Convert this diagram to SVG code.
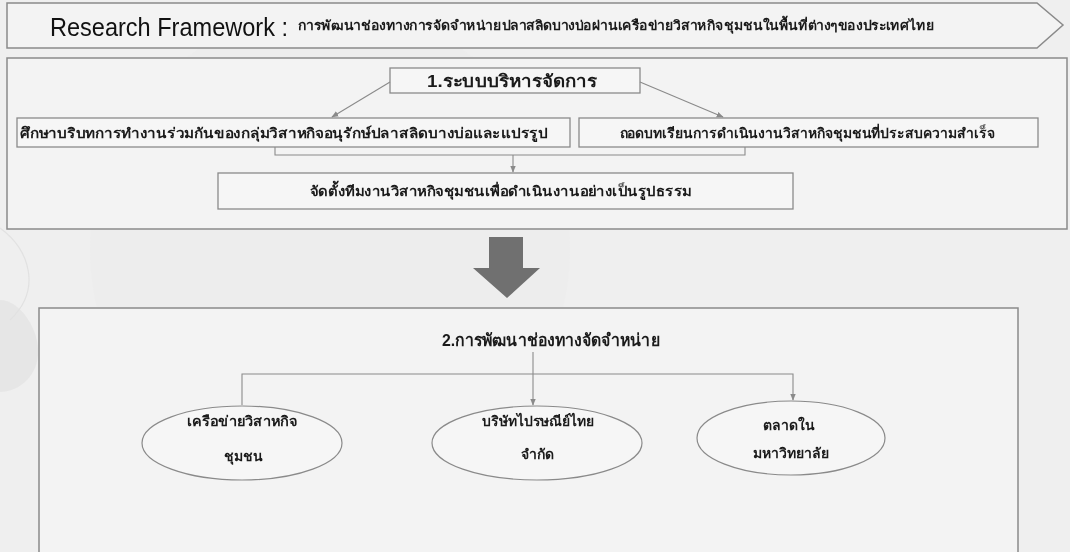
<svg xmlns="http://www.w3.org/2000/svg" width="1070" height="552" viewBox="0 0 1070 552">
<defs>
<style>
.bg{fill:#efefef}
.frame{fill:#f3f3f3;stroke:#8a8a8a;stroke-width:1.5}
.box{fill:#f6f6f6;stroke:#8a8a8a;stroke-width:1.3}
.ell{fill:#f6f6f6;stroke:#8a8a8a;stroke-width:1.2}
.t{font-family:"Liberation Sans","DejaVu Sans","Noto Sans",sans-serif;fill:#1a1a1a;text-anchor:middle;font-weight:bold}
.s{font-size:14px}
.m{font-size:17px}
.conn{fill:none;stroke:#8a8a8a;stroke-width:1.1}
</style>
<marker id="ah" viewBox="0 0 10 10" refX="9" refY="5" markerWidth="7" markerHeight="7" orient="auto" markerUnits="userSpaceOnUse">
<path d="M0,1 L10,5 L0,9 z" fill="#8a8a8a"/>
</marker>
</defs>
<rect class="bg" x="0" y="0" width="1070" height="552"/>
<g id="background" fill="#e4e4e4" opacity="0.8">
<path d="M0,300 C20,300 40,330 38,355 C36,380 15,392 0,392 z"/>
<path d="M0,228 C30,250 42,290 10,320" fill="none" stroke="#dedede" stroke-width="1.2"/>
<circle cx="330" cy="250" r="240" fill="#ececec" opacity="0.5"/>
</g>
<g id="title">
<polygon class="frame" points="7,3 1037,3 1063,25 1037,48 7,48" fill="#f6f6f6"/>
<text x="50" y="36" textLength="238" lengthAdjust="spacingAndGlyphs" style="font-family:'Liberation Sans','DejaVu Sans',sans-serif;font-size:26px;fill:#111">Research Framework :</text>
<text x="616" y="30" class="t" style="font-size:13px" textLength="637" lengthAdjust="spacingAndGlyphs">การพัฒนาช่องทางการจัดจำหน่ายปลาสลิดบางบ่อผ่านเครือข่ายวิสาหกิจชุมชนในพื้นที่ต่างๆของประเทศไทย</text>
</g>
<g id="section1">
<rect class="frame" x="7" y="58" width="1060" height="171"/>
</g>
<g id="node-1-management">
<rect class="box" x="390" y="68" width="250" height="25"/>
<text class="t m" x="512" y="87" textLength="170" lengthAdjust="spacingAndGlyphs">1.ระบบบริหารจัดการ</text>
</g>
<g id="node-study-context">
<rect class="box" x="17" y="118" width="553" height="29"/>
<text class="t s" x="284" y="138" textLength="528" lengthAdjust="spacingAndGlyphs">ศึกษาบริบทการทำงานร่วมกันของกลุ่มวิสาหกิจอนุรักษ์ปลาสลิดบางบ่อและแปรรูป</text>
</g>
<g id="node-lessons">
<rect class="box" x="579" y="118" width="459" height="29"/>
<text class="t s" x="807" y="138" textLength="375" lengthAdjust="spacingAndGlyphs">ถอดบทเรียนการดำเนินงานวิสาหกิจชุมชนที่ประสบความสำเร็จ</text>
</g>
<g id="node-team">
<rect class="box" x="218" y="173" width="575" height="36"/>
<text class="t s" x="501" y="196" textLength="382" lengthAdjust="spacingAndGlyphs">จัดตั้งทีมงานวิสาหกิจชุมชนเพื่อดำเนินงานอย่างเป็นรูปธรรม</text>
</g>
<g id="big-arrow">
<polygon points="489,237 523,237 523,268 540,268 507,298 473,268 489,268" fill="#707070"/>
</g>
<g id="section2">
<rect class="frame" x="39" y="308" width="979" height="260"/>
</g>
<g id="node-2-channels">
<text class="t m" x="551" y="346" textLength="218" lengthAdjust="spacingAndGlyphs">2.การพัฒนาช่องทางจัดจำหน่าย</text>
</g>
<g id="node-network">
<ellipse class="ell" cx="242" cy="443" rx="100" ry="37"/>
<text class="t s" x="242" y="426" textLength="110" lengthAdjust="spacingAndGlyphs">เครือข่ายวิสาหกิจ</text>
<text class="t s" x="243" y="461">ชุมชน</text>
</g>
<g id="node-post">
<ellipse class="ell" cx="537" cy="443" rx="105" ry="37"/>
<text class="t s" x="538" y="426" textLength="112" lengthAdjust="spacingAndGlyphs">บริษัทไปรษณีย์ไทย</text>
<text class="t s" x="537" y="459">จำกัด</text>
</g>
<g id="node-market">
<ellipse class="ell" cx="791" cy="438" rx="94" ry="37"/>
<text class="t s" x="789" y="430">ตลาดใน</text>
<text class="t s" x="791" y="458">มหาวิทยาลัย</text>
</g>
<g id="connectors">
<line class="conn" x1="390" y1="82" x2="332" y2="117" marker-end="url(#ah)"/>
<line class="conn" x1="640" y1="82" x2="723" y2="117" marker-end="url(#ah)"/>
<polyline class="conn" points="275,147 275,155 745,155 745,147"/>
<line class="conn" x1="513" y1="155" x2="513" y2="172" marker-end="url(#ah)"/>
<line class="conn" x1="533" y1="352" x2="533" y2="405" marker-end="url(#ah)"/>
<polyline class="conn" points="242,405 242,374 793,374 793,400" marker-end="url(#ah)"/>
</g>
</svg>
